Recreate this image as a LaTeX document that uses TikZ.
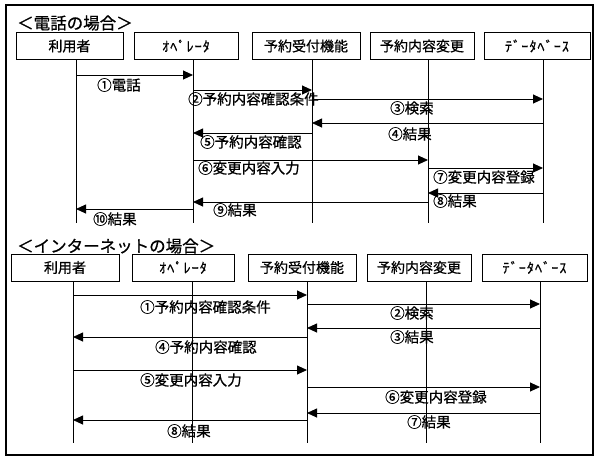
\documentclass[tikz,border=0pt]{standalone}
\usepackage{fontspec}
\setmainfont{Noto Sans CJK JP}[FakeBold=0.7]
\usetikzlibrary{arrows.meta}
\tikzset{
  box/.style={draw, line width=0.8pt, minimum height=27pt, inner sep=0pt, font=\fontsize{14}{16}\selectfont},
  hw/.style={font=\fontsize{14}{16}\selectfont\addfontfeature{LetterSpace=8}},
  life/.style={line width=0.9pt},
  msg/.style={line width=0.9pt, -{Triangle[length=10pt,width=9pt]}},
  lbl/.style={anchor=west, inner sep=0pt, font=\fontsize{14.5}{16}\selectfont},
  ttl/.style={anchor=west, inner sep=0pt, font=\fontsize{16.5}{18}\selectfont},
}
\begin{document}
\begin{tikzpicture}[x=1pt,y=-1pt]
\useasboundingbox (0,0) rectangle (600,461);
\draw[line width=1.4pt] (6,5) rectangle (593,455);

% ---------- top section ----------
\node[ttl] (t0) at (17,23) {＜電話の場合＞};
\node[box, minimum width=107pt] (tU) at (69.5,46) {利用者};
\node[box, hw, minimum width=104pt] (tO) at (186,46) {ｵﾍﾟﾚｰﾀ};
\node[box, minimum width=108pt] (tR) at (306,46) {予約受付機能};
\node[box, minimum width=104pt] (tC) at (422,46) {予約内容変更};
\node[box, hw, minimum width=106pt] (tD) at (537,46) {ﾃﾞｰﾀﾍﾞｰｽ};

\coordinate (tUa) at (76,60);  \coordinate (tUb) at (76,223);
\coordinate (tOa) at (193,60); \coordinate (tOb) at (193,223);
\coordinate (tRa) at (312,60); \coordinate (tRb) at (312,223);
\coordinate (tCa) at (428,60); \coordinate (tCb) at (428,223);
\coordinate (tDa) at (543,60); \coordinate (tDb) at (543,223);
\foreach \n in {tU,tO,tR,tC,tD} \draw[life] (\n a) -- (\n b);

\draw[msg] (tUa |- 0,75)  -- (tOa |- 0,75);
\draw[msg] (tOa |- 0,90)  -- (tRa |- 0,90);
\draw[msg] (tRa |- 0,99)  -- (tDa |- 0,99);
\draw[msg] (tDa |- 0,123) -- (tRa |- 0,123);
\draw[msg] (tRa |- 0,133) -- (tOa |- 0,133);
\draw[msg] (tOa |- 0,160) -- (tCa |- 0,160);
\draw[msg] (tCa |- 0,168) -- (tDa |- 0,168);
\draw[msg] (tDa |- 0,193) -- (tCa |- 0,193);
\draw[msg] (tCa |- 0,202) -- (tOa |- 0,202);
\draw[msg] (tOa |- 0,209) -- (tUa |- 0,209);

\node[lbl] (tl1) at (97,85)   {①電話};
\node[lbl] (tl2) at (188,99)  {②予約内容確認条件};
\node[lbl] (tl3) at (390,108) {③検索};
\node[lbl] (tl4) at (388,134) {④結果};
\node[lbl] (tl5) at (200,142) {⑤予約内容確認};
\node[lbl] (tl6) at (198,168) {⑥変更内容入力};
\node[lbl] (tl7) at (433,177) {⑦変更内容登録};
\node[lbl] (tl8) at (433,201) {⑧結果};
\node[lbl] (tl9) at (213,210) {⑨結果};
\node[lbl] (tl10) at (93,219) {⑩結果};

% ---------- bottom section ----------
\node[ttl] (b0) at (17,246) {＜インターネットの場合＞};
\node[box, minimum width=108pt] (bU) at (65,267.5) {利用者};
\node[box, hw, minimum width=102pt] (bO) at (183,267.5) {ｵﾍﾟﾚｰﾀ};
\node[box, minimum width=108pt] (bR) at (302,267.5) {予約受付機能};
\node[box, minimum width=104pt] (bC) at (419,267.5) {予約内容変更};
\node[box, hw, minimum width=105pt] (bD) at (534.5,267.5) {ﾃﾞｰﾀﾍﾞｰｽ};

\coordinate (bUa) at (73,281);  \coordinate (bUb) at (73,443);
\coordinate (bOa) at (192,281); \coordinate (bOb) at (192,443);
\coordinate (bRa) at (307,281); \coordinate (bRb) at (307,443);
\coordinate (bCa) at (426,281); \coordinate (bCb) at (426,443);
\coordinate (bDa) at (540,281); \coordinate (bDb) at (540,443);
\foreach \n in {bU,bO,bR,bC,bD} \draw[life] (\n a) -- (\n b);

\draw[msg] (bUa |- 0,295) -- (bRa |- 0,295);
\draw[msg] (bRa |- 0,304) -- (bDa |- 0,304);
\draw[msg] (bDa |- 0,328) -- (bRa |- 0,328);
\draw[msg] (bRa |- 0,337) -- (bUa |- 0,337);
\draw[msg] (bUa |- 0,370) -- (bRa |- 0,370);
\draw[msg] (bRa |- 0,387) -- (bDa |- 0,387);
\draw[msg] (bDa |- 0,413) -- (bRa |- 0,413);
\draw[msg] (bRa |- 0,420) -- (bUa |- 0,420);

\node[lbl] (bl1) at (140,307) {①予約内容確認条件};
\node[lbl] (bl2) at (390,313) {②検索};
\node[lbl] (bl3) at (390,337) {③結果};
\node[lbl] (bl4) at (155,347) {④予約内容確認};
\node[lbl] (bl5) at (140,380) {⑤変更内容入力};
\node[lbl] (bl6) at (385,397) {⑥変更内容登録};
\node[lbl] (bl7) at (407,422) {⑦結果};
\node[lbl] (bl8) at (167,431) {⑧結果};
\end{tikzpicture}
\end{document}
